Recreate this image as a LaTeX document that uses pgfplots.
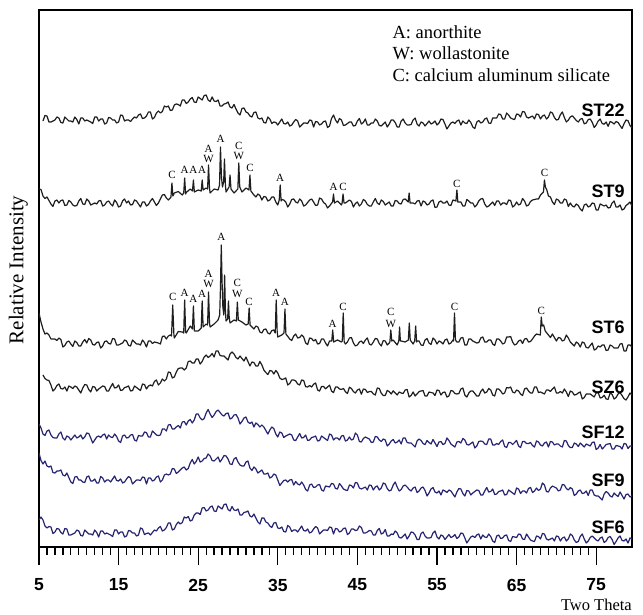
\documentclass[border=0pt]{standalone}
\usepackage{fontspec}
\setmainfont{Liberation Serif}
\newfontfamily\arial{Liberation Sans}
\usepackage{pgfplots}
\pgfplotsset{compat=1.18}
\definecolor{navy}{RGB}{38,36,112}
\definecolor{ink}{RGB}{30,30,30}
\begin{document}
\begin{tikzpicture}
\path[use as bounding box] (-39pt,-67pt) rectangle (604pt,547pt);
\begin{axis}[
 at={(0pt,0pt)}, anchor=south west,
 width=593pt, height=537pt, scale only axis,
 xmin=5, xmax=79.5, ymin=0, ymax=537,
 axis line style={line width=1.3pt},
 xtick={5,15,...,75}, minor x tick num=9,
 xtick pos=left, tick align=outside,
 major tick length=18pt, minor tick length=8pt,
 tick style={line width=1.3pt, black},
 ytick=\empty,
 xticklabel style={font=\arial\bfseries\fontsize{17.5}{18}\selectfont, anchor=center, yshift=-20pt},
 /pgf/number format/assume math mode=true,
 ylabel={Relative Intensity},
 ylabel style={font=\fontsize{21}{21}\selectfont, at={(axis description cs:-0.035,0.516)}, anchor=center},
 xlabel={Two Theta},
 xlabel style={at={(axis description cs:1.0,-0.119)}, anchor=base east, inner sep=0pt, font=\fontsize{16.5}{17}\selectfont},
 every axis plot/.append style={no marks, line width=1.2pt, line join=round},
]
% SF6
\addplot[navy] coordinates {(5,27)(5.25,30)(5.5,27)(5.75,21)(6,19)(6.25,20.5)(6.5,20)(6.75,13.5)(7,15)(7.25,18.5)(7.5,18)(7.75,14.5)(8,13)(8.25,18.5)(8.5,18)(8.75,12)(9,12)(9.25,13)(9.5,14)(9.75,17)(10,16)(10.25,11.5)(10.5,11)(10.75,17)(11,15)(11.25,13)(11.5,13)(11.75,12)(12,17)(12.25,14.5)(12.5,10)(12.75,16)(13,16)(13.25,13)(13.5,14)(13.75,13)(14,12)(14.25,10.5)(14.5,17)(14.75,17)(15,13)(15.25,15)(15.5,15)(15.75,10)(16,11)(16.25,16.5)(16.5,16)(16.75,14)(17,14)(17.25,11)(17.5,12)(17.75,19)(18,18)(18.25,12.5)(18.5,13.5)(18.75,14)(19,12)(19.25,14.5)(19.5,17)(19.75,16)(20,19)(20.25,20.5)(20.5,16)(20.75,17)(21,19.5)(21.25,24)(21.5,24)(21.75,17)(22,18)(22.25,22.5)(22.5,25)(22.75,23)(23,24.5)(23.25,30)(23.5,29)(23.75,30.5)(24,26)(24.25,27)(24.5,32)(24.75,34)(25,34)(25.25,32.5)(25.5,39)(25.75,39.5)(26,36)(26.25,37)(26.5,40)(26.75,41)(27,36)(27.25,35.5)(27.5,41)(27.75,39.5)(28,38)(28.25,42.5)(28.5,43)(28.75,37.5)(29,36)(29.25,40.5)(29.5,37)(29.75,36.5)(30,38)(30.25,32)(30.5,32)(30.75,34.5)(31,35)(31.25,36)(31.5,31)(31.75,30)(32,33)(32.25,29)(32.5,25)(32.75,23)(33,29)(33.25,29)(33.5,25)(33.75,24)(34,21)(34.25,19.5)(34.5,24)(34.75,24.5)(35,19)(35.25,18.5)(35.5,20)(35.75,15.5)(36,15)(36.25,21.5)(36.5,20)(36.75,15.5)(37,17)(37.25,17)(37.5,15)(37.75,18)(38,21)(38.25,16.5)(38.5,16)(38.75,18)(39,14)(39.25,15)(39.5,18)(39.75,20.5)(40,19)(40.25,13)(40.5,15)(40.75,17)(41,17)(41.25,16.5)(41.5,20)(41.75,19.5)(42,13)(42.25,18.5)(42.5,18)(42.75,15)(43,16)(43.25,18.5)(43.5,19)(43.75,12.5)(44,14)(44.25,18)(44.5,18)(44.75,16.5)(45,17)(45.25,21)(45.5,19.5)(45.75,14)(46,14)(46.25,15)(46.5,16.5)(46.75,16)(47,12)(47.25,12)(47.5,16.5)(47.75,18.5)(48,13)(48.25,14)(48.5,17.5)(48.75,11)(49,11)(49.25,13)(49.5,12.5)(49.75,16)(50,14)(50.25,9.5)(50.5,9)(50.75,11)(51,13)(51.25,8)(51.5,11)(51.75,15)(52,14.5)(52.25,12)(52.5,7.5)(52.75,7.5)(53,13.5)(53.25,15)(53.5,11)(53.75,9)(54,9)(54.25,9.5)(54.5,14)(54.75,16)(55,10)(55.25,8)(55.5,12)(55.75,11)(56,7.5)(56.25,10)(56.5,12.5)(56.75,9.5)(57,10.5)(57.25,12.5)(57.5,8.5)(57.75,10)(58,14)(58.25,13.5)(58.5,9)(58.75,4)(59,7)(59.25,10)(59.5,11)(59.75,9.5)(60,12)(60.25,13)(60.5,8)(60.75,12)(61,10)(61.25,9.5)(61.5,13)(61.75,10.5)(62,6)(62.25,4.5)(62.5,11)(62.75,12)(63,8.5)(63.25,9)(63.5,11.5)(63.75,12)(64,6.5)(64.25,5.5)(64.5,10.5)(64.75,10)(65,9.5)(65.25,13)(65.5,12.5)(65.75,8)(66,7.5)(66.25,13)(66.5,10)(66.75,7)(67,6)(67.25,5.5)(67.5,11)(67.75,10.5)(68,8)(68.25,13.5)(68.5,13)(68.75,8)(69,7)(69.25,8)(69.5,9)(69.75,6)(70,11)(70.25,10.5)(70.5,6)(70.75,9)(71,10)(71.25,6)(71.5,8)(71.75,13)(72,11.5)(72.25,7)(72.5,4.5)(72.75,5.5)(73,10.5)(73.25,13)(73.5,8)(73.75,4)(74,6)(74.25,9.5)(74.5,11)(74.75,9)(75,7)(75.25,6)(75.5,9)(75.75,10)(76,4.5)(76.25,6)(76.5,9.5)(76.75,10.5)(77,7.5)(77.25,2.5)(77.5,5.5)(77.75,9)(78,11)(78.25,6.5)(78.5,6)(78.75,8)(79,4)(79.25,9)(79.5,8)(79.75,6.5)(80,9)};
% SF9
\addplot[navy] coordinates {(5,94)(5.25,86.5)(5.5,83)(5.75,86)(6,81)(6.25,80)(6.5,81)(6.75,74.5)(7,74)(7.25,76)(7.5,76)(7.75,77)(8,72)(8.25,71)(8.5,74)(8.75,69.5)(9,65)(9.25,63.5)(9.5,70)(9.75,70.5)(10,67)(10.25,67)(10.5,65)(10.75,64.5)(11,70)(11.25,71)(11.5,66)(11.75,66)(12,68)(12.25,64)(12.5,64)(12.75,70.5)(13,69)(13.25,65)(13.5,67)(13.75,67)(14,65)(14.25,68)(14.5,71)(14.75,66.5)(15,66)(15.25,68)(15.5,64)(15.75,65)(16,68)(16.25,70.5)(16.5,69)(16.75,63)(17,65)(17.25,67)(17.5,67)(17.75,66.5)(18,70)(18.25,69.5)(18.5,63)(18.75,69)(19,69)(19.25,66)(19.5,67)(19.75,70)(20,71)(20.25,65)(20.5,67)(20.75,72)(21,73)(21.25,72)(21.5,73)(21.75,78.5)(22,78)(22.25,73.5)(22.5,75)(22.75,77)(23,79)(23.25,80)(23.5,77)(23.75,78.5)(24,84)(24.25,87.5)(24.5,83)(24.75,85.5)(25,90)(25.25,85)(25.5,86)(25.75,88.5)(26,89)(26.25,93)(26.5,91)(26.75,86.5)(27,86)(27.25,88)(27.5,90)(27.75,85)(28,88)(28.25,91.5)(28.5,91)(28.75,88)(29,83)(29.25,82.5)(29.5,88)(29.75,89.5)(30,85)(30.25,82)(30.5,81)(30.75,81)(31,85)(31.25,86)(31.5,79)(31.75,76.5)(32,80)(32.25,78)(32.5,74)(32.75,75.5)(33,77)(33.25,73)(33.5,73)(33.75,74)(34,69)(34.25,70)(34.5,73)(34.75,72)(35,67)(35.25,61.5)(35.5,64)(35.75,66.5)(36,67)(36.25,65)(36.5,67)(36.75,67.5)(37,62)(37.25,65.5)(37.5,63)(37.75,62)(38,65)(38.25,62)(38.5,57.5)(38.75,56)(39,62)(39.25,63)(39.5,59.5)(39.75,60)(40,62)(40.25,62.5)(40.5,57)(40.75,56)(41,61)(41.25,60.5)(41.5,60)(41.75,63.5)(42,63)(42.25,58.5)(42.5,58)(42.75,63.5)(43,61)(43.25,58)(43.5,57)(43.75,56.5)(44,62)(44.25,61.5)(44.5,59)(44.75,64.5)(45,64)(45.25,59)(45.5,58)(45.75,59)(46,60)(46.25,57)(46.5,62)(46.75,61.5)(47,57)(47.25,60)(47.5,61)(47.75,57)(48,59)(48.25,64)(48.5,63)(48.75,58.5)(49,56)(49.25,57)(49.5,62)(49.75,65)(50,60)(50.25,56)(50.5,57.5)(50.75,61)(51,62)(51.25,60)(51.5,57.5)(51.75,56)(52,59)(52.25,60)(52.5,54.5)(52.75,56)(53,59)(53.25,60)(53.5,56.5)(53.75,51)(54,54)(54.25,58)(54.5,59.5)(54.75,55)(55,54)(55.25,56)(55.5,52)(55.75,57)(56,56)(56.25,54.5)(56.5,57)(56.75,56)(57,53)(57.25,50)(57.5,55)(57.75,58.5)(58,58)(58.25,53.5)(58.5,51)(58.75,56.5)(59,56)(59.25,52)(59.5,54)(59.75,55.5)(60,57)(60.25,56.5)(60.5,52)(60.75,52)(61,56)(61.25,59.5)(61.5,55)(61.75,55.5)(62,58)(62.25,52.5)(62.5,53)(62.75,55.5)(63,56)(63.25,57)(63.5,52)(63.75,52.5)(64,57)(64.25,55.5)(64.5,54)(64.75,52.5)(65,59)(65.25,58)(65.5,53.5)(65.75,56)(66,56)(66.25,54)(66.5,58.5)(66.75,59.5)(67,54.5)(67.25,56)(67.5,59)(67.75,56.5)(68,58)(68.25,64)(68.5,62)(68.75,55.5)(69,55)(69.25,59)(69.5,61)(69.75,60)(70,59)(70.25,56)(70.5,57)(70.75,62.5)(71,62)(71.25,58.5)(71.5,57)(71.75,59.5)(72,58)(72.25,51.5)(72.5,53)(72.75,56)(73,57)(73.25,53.5)(73.5,54)(73.75,56)(74,51.5)(74.25,57)(74.5,57)(74.75,52)(75,51)(75.25,51)(75.5,49)(75.75,47)(76,53)(76.25,55.5)(76.5,54)(76.75,51)(77,50)(77.25,54)(77.5,52)(77.75,50.5)(78,55)(78.25,51.5)(78.5,48)(78.75,52.5)(79,53)(79.25,50)(79.5,51)(79.75,56.5)(80,54)};
% SF12
\addplot[navy] coordinates {(5,123)(5.25,119)(5.5,113)(5.75,111.5)(6,116)(6.25,117)(6.5,112)(6.75,109.5)(7,109)(7.25,109)(7.5,113)(7.75,115)(8,109)(8.25,107)(8.5,111)(8.75,110)(9,107)(9.25,109.5)(9.5,112)(9.75,109)(10,110)(10.25,112)(10.5,108)(10.75,110)(11,114)(11.25,113.5)(11.5,109)(11.75,104)(12,107)(12.25,110)(12.5,111)(12.75,109.5)(13,112)(13.25,113)(13.5,108)(13.75,112)(14,110)(14.25,109.5)(14.5,113)(14.75,110.5)(15,106)(15.25,104.5)(15.5,111)(15.75,112)(16,109)(16.25,109.5)(16.5,112)(16.75,112.5)(17,107)(17.25,106)(17.5,111.5)(17.75,111)(18,111)(18.25,115)(18.5,114.5)(18.75,110)(19,110)(19.25,116)(19.5,114)(19.75,112)(20,111.5)(20.25,112)(20.5,118)(20.75,118)(21,116)(21.25,122)(21.5,122.5)(21.75,118)(22,118)(22.25,120)(22.5,121.5)(22.75,119)(23,125)(23.25,125.5)(23.5,122)(23.75,126)(24,127.5)(24.25,124)(24.5,127)(24.75,133)(25,133)(25.25,129)(25.5,127)(25.75,128.5)(26,134)(26.25,137.5)(26.5,133)(26.75,129.5)(27,132)(27.25,135.5)(27.5,137)(27.75,134.5)(28,132)(28.25,131)(28.5,133.5)(28.75,134)(29,128)(29.25,129)(29.5,132)(29.75,132.5)(30,129)(30.25,123)(30.5,125.5)(30.75,129)(31,130)(31.25,125)(31.5,123.5)(31.75,125)(32,120)(32.25,124)(32.5,122.5)(32.75,120)(33,122)(33.25,120)(33.5,116.5)(33.75,113)(34,117)(34.25,120)(34.5,118.5)(34.75,113)(35,110)(35.25,115)(35.5,114)(35.75,109.5)(36,111)(36.25,112)(36.5,113)(36.75,112)(37,107)(37.25,106.5)(37.5,110)(37.75,113.5)(38,109)(38.25,109.5)(38.5,112)(38.75,106.5)(39,107)(39.25,109.5)(39.5,110)(39.75,111)(40,106)(40.25,106.5)(40.5,111)(40.75,109.5)(41,108)(41.25,106.5)(41.5,113)(41.75,112)(42,107)(42.25,109)(42.5,109)(42.75,107)(43,111)(43.25,111.5)(43.5,106)(43.75,107)(44,110)(44.25,107)(44.5,108)(44.75,114)(45,112)(45.25,105.5)(45.5,105)(45.75,108.5)(46,110)(46.25,109)(46.5,108)(46.75,104.5)(47,105)(47.25,110.5)(47.5,110)(47.75,107)(48,105.5)(48.25,108)(48.5,107)(48.75,101)(49,103)(49.25,106)(49.5,107.5)(49.75,104)(50,105)(50.25,107)(50.5,103)(50.75,109)(51,109)(51.25,104.5)(51.5,104)(51.75,104)(52,102)(52.25,100)(52.5,106)(52.75,108)(53,106.5)(53.25,103.5)(53.5,102.5)(53.75,106.5)(54,104.5)(54.25,103)(54.5,107.5)(54.75,104)(55,100.5)(55.25,105)(55.5,105.5)(55.75,102.5)(56,103.5)(56.25,109)(56.5,106.5)(56.75,103)(57,101.5)(57.25,100)(57.5,105)(57.75,105.5)(58,104)(58.25,108.5)(58.5,107)(58.75,102.5)(59,102)(59.25,103.5)(59.5,105)(59.75,99)(60,101)(60.25,105.5)(60.5,106)(60.75,105.5)(61,103)(61.25,102.5)(61.5,108)(61.75,108)(62,102)(62.25,102)(62.5,103.5)(62.75,102.5)(63,105.5)(63.25,107)(63.5,100.5)(63.75,99.5)(64,104.5)(64.25,104.5)(64.5,102.5)(64.75,104.5)(65,106.5)(65.25,101)(65.5,99.5)(65.75,105.5)(66,105.5)(66.25,103.5)(66.5,103.5)(66.75,104.5)(67,101.5)(67.25,100)(67.5,106)(67.75,105)(68,102)(68.25,101)(68.5,104)(68.75,105)(69,100)(69.25,105.5)(69.5,105)(69.75,102)(70,103)(70.25,103)(70.5,101)(70.75,100)(71,106.5)(71.25,106)(71.5,101.5)(71.75,99.5)(72,99.5)(72.25,104)(72.5,103)(72.75,100.5)(73,104)(73.25,102)(73.5,100)(73.75,103)(74,102)(74.25,101)(74.5,104.5)(74.75,105)(75,97.5)(75.25,99)(75.5,102.5)(75.75,98)(76,100)(76.25,102.5)(76.5,103)(76.75,103.5)(77,98)(77.25,98)(77.5,101.5)(77.75,101)(78,100.5)(78.25,98)(78.5,103.5)(78.75,103)(79,98.5)(79.25,101)(79.5,101)(79.75,96)(80,97)};
% SZ6
\addplot[ink] coordinates {(5.5,172)(5.75,168.5)(6,167)(6.25,166.5)(6.5,162)(6.75,156)(7,158)(7.25,161.5)(7.5,163)(7.75,158.5)(8,158)(8.25,160)(8.5,156)(8.75,161)(9,160)(9.25,158.5)(9.5,161)(9.75,160)(10,157)(10.25,154)(10.5,159)(10.75,162.5)(11,162)(11.25,157.5)(11.5,155)(11.75,160.5)(12,160)(12.25,156)(12.5,158)(12.75,159.5)(13,161)(13.25,160.5)(13.5,156)(13.75,156)(14,160)(14.25,163.5)(14.5,159)(14.75,159.5)(15,162)(15.25,156.5)(15.5,157)(15.75,159.5)(16,160)(16.25,161)(16.5,156)(16.75,156.5)(17,161)(17.25,159.5)(17.5,158)(17.75,156.5)(18,163)(18.25,162.5)(18.5,158)(18.75,161)(19,162)(19.25,161)(19.5,165.5)(19.75,167)(20,162)(20.25,164)(20.5,168)(20.75,166)(21,168)(21.25,175)(21.5,174.5)(21.75,169)(22,170)(22.25,175)(22.5,178.5)(22.75,179)(23,179)(23.25,177)(23.5,179)(23.75,185.5)(24,186)(24.25,184)(24.5,184)(24.75,188)(25,188)(25.25,183)(25.5,185.5)(25.75,190)(26,192)(26.25,189.5)(26.5,191)(26.75,193.5)(27,190)(27.25,196)(27.5,196)(27.75,191.5)(28,191)(28.25,191)(28.5,189)(28.75,187)(29,193)(29.25,195)(29.5,193)(29.75,189.5)(30,188)(30.25,191)(30.5,188.5)(30.75,186)(31,190)(31.25,185.5)(31.5,181)(31.75,185)(32,184.5)(32.25,181)(32.5,181)(32.75,185.5)(33,182)(33.25,177)(33.5,174.5)(33.75,172.5)(34,176.5)(34.25,176)(34.5,173)(34.75,176.5)(35,174)(35.25,169)(35.5,167.5)(35.75,168)(36,169)(36.25,162)(36.5,163.5)(36.75,167)(37,167)(37.25,166)(37.5,163)(37.75,162)(38,167)(38.25,166.5)(38.5,160.3)(38.75,160)(39,161.5)(39.25,160)(39.5,162.8)(39.75,164)(40,157)(40.25,156)(40.5,160.6)(40.75,160.5)(41,158.2)(41.25,160)(41.5,161.8)(41.75,156)(42,154.4)(42.25,160)(42.5,160)(42.75,158)(43,157.6)(43.25,158.5)(43.5,155.2)(43.75,153.5)(44,159.8)(44.25,158.5)(44.5,155.4)(44.75,154)(45,157)(45.25,158)(45.5,152.8)(45.75,158)(46,157.6)(46.25,154.5)(46.5,155.4)(46.75,155.5)(47,153.2)(47.25,152)(47.5,159)(47.75,158.5)(48,153.8)(48.25,151.5)(48.5,151.6)(48.75,156.5)(49,155.4)(49.25,153)(49.5,156.2)(49.75,154)(50,152)(50.25,155)(50.5,154)(50.75,153.5)(51,157)(51.25,157.5)(51.5,150)(51.75,151.5)(52,155)(52.25,151)(52.5,153)(52.75,155.5)(53,156)(53.25,156.5)(53.5,151)(53.75,151)(54,155)(54.25,154.5)(54.5,154)(54.75,151.5)(55,157)(55.25,156.5)(55.5,152)(55.75,154.5)(56,155)(56.25,150)(56.5,151)(56.75,156.5)(57,156)(57.25,153.5)(57.5,153)(57.75,153.5)(58,158)(58.25,159)(58.5,152)(58.75,150)(59,154)(59.25,156)(59.5,156)(59.75,153.5)(60,151)(60.25,151)(60.5,155.5)(60.75,158)(61,154)(61.25,155)(61.5,158.5)(61.75,157)(62,152)(62.25,151)(62.5,158)(62.75,158)(63,156)(63.25,153)(63.5,154)(63.75,159.5)(64,159)(64.25,160)(64.5,155)(64.75,154)(65,157)(65.25,156)(65.5,153)(65.75,151.5)(66,158)(66.25,159)(66.5,156)(66.75,154)(67,154)(67.25,160)(67.5,160)(67.75,154.5)(68,155)(68.25,154)(68.5,153)(68.75,157)(69,157)(69.25,155.5)(69.5,158)(69.75,160)(70,154)(70.25,154)(70.5,155.5)(70.75,154)(71,158)(71.25,155)(71.5,150.5)(71.75,156)(72,155)(72.25,152)(72.5,152.5)(72.75,154)(73,155)(73.25,148)(73.5,149.5)(73.75,153)(74,153)(74.25,153)(74.5,151.5)(74.75,150)(75,154)(75.25,154.5)(75.5,149)(75.75,149.5)(76,151.8)(76.25,148)(76.5,147.7)(76.75,154)(77,152.6)(77.25,148)(77.5,149.5)(77.75,153)(78,154.4)(78.25,151.5)(78.5,148.3)(78.75,147)(79,150.2)(79.25,154)(79.5,152.1)(79.75,148.5)(80,147)};
% ST6
\addplot[ink] coordinates {(5,234)(5.25,225)(5.5,218)(5.75,213)(6,214)(6.25,212)(6.5,208)(6.75,208)(7,208)(7.25,206.5)(7.5,209)(7.75,207.5)(8,200)(8.25,201.5)(8.5,205)(8.75,206)(9,203)(9.25,200.5)(9.5,206)(9.75,204.5)(10,201)(10.25,201)(10.5,205)(10.75,207.5)(11,204)(11.25,208.5)(11.5,207)(11.75,202.5)(12,202)(12.25,204.5)(12.5,205)(12.75,199)(13,201)(13.25,205.5)(13.5,206)(13.75,203.5)(14,203)(14.25,208.5)(14.5,208)(14.75,202)(15,202)(15.25,203)(15.5,204)(15.75,207)(16,206)(16.25,201.5)(16.5,201)(16.75,207)(17,205)(17.25,203)(17.5,203)(17.75,202)(18,207)(18.25,204.5)(18.5,200)(18.75,206)(19,206)(19.25,203.5)(19.5,205)(19.75,204.5)(20,204)(20.25,203)(20.5,210.5)(20.75,211)(21,208)(21.25,211)(21.5,212)(21.65,211)(21.8,242)(21.95,212)(22,209)(22.5,215.5)(23,215)(23.18,214)(23.3,247)(23.42,215)(23.5,214)(24,221)(24.28,218)(24.4,241)(24.52,216)(25,216)(25.38,219)(25.5,246)(25.62,220)(26,223)(26.18,222)(26.3,255)(26.42,224)(26.5,220)(27,223)(27.5,227)(27.7,232)(27.8,260)(27.9,302)(28.0,265)(28.1,240)(28.22,232)(28.32,272)(28.42,236)(28.5,226)(28.7,228)(28.8,246)(28.9,229)(29,224)(29.5,227)(29.8,226)(29.92,245)(30.04,227)(30.5,225)(31,222)(31.28,223)(31.4,239)(31.52,222)(32,218)(32.25,221)(32.5,220)(32.75,215)(33,214)(33.25,217.5)(33.5,218)(33.75,214)(34,213)(34.25,216.5)(34.5,217)(34.68,214)(34.8,247)(34.92,216)(35,210)(35.5,212)(35.78,214)(35.9,238)(36.02,213)(36.5,208)(36.75,206.5)(37,211)(37.25,213)(37.5,209)(37.75,209.5)(38,212)(38.25,210)(38.5,204)(38.75,202.5)(39,209)(39.25,208.5)(39.5,206)(39.75,207.5)(40,203)(40.25,203.5)(40.5,208)(40.75,208)(41,204)(41.25,201)(41.5,206)(41.78,206)(41.9,217)(42.02,205)(42.5,207)(43,205)(43.1,206)(43.22,234)(43.34,205)(43.5,203)(43.75,205)(44,209)(44.25,209.5)(44.5,204)(44.75,201)(45,202)(45.25,205)(45.5,206)(45.75,203.5)(46,207)(46.25,209)(46.5,203)(46.75,202)(47,205)(47.25,208.5)(47.5,208)(47.75,203.5)(48,201)(48.25,206.5)(48.5,206)(48.75,202)(49,204)(49.08,205)(49.2,217)(49.32,206)(49.5,207)(50,202)(50.2,206)(50.3,220)(50.4,206)(50.5,206)(51,205)(51.4,207)(51.52,224)(51.64,207)(52,203)(52.2,206)(52.32,221)(52.44,205)(52.5,206)(52.75,206)(53,202)(53.25,201.5)(53.5,207)(53.75,208.5)(54,204)(54.25,202.5)(54.5,209)(54.75,207)(55,203)(55.25,206)(55.5,205)(55.75,203)(56,207)(56.25,208)(56.5,203)(56.75,204)(57,207)(57.08,206)(57.2,234)(57.32,207)(57.5,205)(57.75,205)(58,209)(58.25,209.5)(58.5,202)(58.75,202)(59,208)(59.25,208)(59.5,206)(59.75,205)(60,204)(60.25,204.5)(60.5,209)(60.75,210)(61,205)(61.25,205)(61.5,207)(61.75,207)(62,203)(62.25,201.5)(62.5,208)(62.75,208)(63,206)(63.25,203)(63.5,204)(63.75,210)(64,210)(64.25,210.5)(64.5,205)(64.75,202)(65,203)(65.25,206)(65.5,207)(65.75,203.5)(66,208)(66.25,208.5)(66.5,205)(66.75,205.5)(67,208)(67.25,211)(67.5,213)(67.98,212)(68.1,230)(68.22,221)(68.4,222)(68.6,216)(69,212)(69.25,209.5)(69.5,213)(69.75,209.5)(70,206)(70.25,209.5)(70.5,209)(70.75,206)(71,207)(71.25,212)(71.5,209)(71.75,205)(72,203)(72.25,201)(72.5,205)(72.75,203.5)(73,200)(73.25,205)(73.5,204)(73.75,199.5)(74,199)(74.25,201.5)(74.5,204)(74.75,197)(75,198)(75.25,201)(75.5,200)(75.75,202)(76,202)(76.25,196.5)(76.5,197)(76.75,202)(77,201)(77.25,199)(77.5,199)(77.75,199)(78,203)(78.25,203.5)(78.5,196)(78.75,196)(79,202)(79.25,202)(79.5,200)(79.75,199)(80,198)};
% ST9
\addplot[ink] coordinates {(5,358)(5.25,357.5)(5.5,351)(5.75,348.5)(6,350)(6.25,346.5)(6.5,343)(6.75,340.5)(7,346)(7.25,347)(7.5,344)(7.75,346.5)(8,347)(8.25,341.5)(8.5,342)(8.75,346.5)(9,345)(9.25,342)(9.5,341)(9.75,341.5)(10,346)(10.25,348.5)(10.5,343)(10.75,342.5)(11,348)(11.25,346)(11.5,342)(11.75,343)(12,344)(12.25,343)(12.5,346)(12.75,346.5)(13,341)(13.25,342)(13.5,345)(13.75,346)(14,343)(14.25,341)(14.5,347)(14.75,344.5)(15,340)(15.25,341)(15.5,346)(15.75,348)(16,344)(16.25,346)(16.5,342)(16.75,342.5)(17,347)(17.25,346)(17.5,343)(17.75,340)(18,345)(18.25,345)(18.5,341)(18.75,342.5)(19,346)(19.25,348.5)(19.5,345)(19.75,341.5)(20,344)(20.25,348)(20.5,352)(20.75,352.5)(21,349)(21.25,347)(21.5,349)(21.58,350)(21.7,364)(21.82,351)(22,354)(22.5,355.5)(23,352)(23.18,354)(23.3,369)(23.42,353)(23.5,354.5)(24,358)(24.28,356)(24.4,367)(24.52,355)(25,357)(25.38,356)(25.5,367)(25.62,357)(26,359)(26.18,358)(26.3,382)(26.42,359)(26.5,354)(27,358)(27.5,357)(27.68,362)(27.8,400)(27.92,370)(28.05,360)(28.2,365)(28.3,388)(28.42,362)(28.5,355)(28.88,360)(29.0,372)(29.12,358)(29.5,354)(29.98,358)(30.1,384)(30.22,360)(30.5,355)(31,359)(31.38,357)(31.5,372)(31.62,356)(32,352)(32.25,350)(32.5,353)(32.75,351.5)(33,347)(33.25,350.5)(33.5,350)(33.75,346)(34,347)(34.25,350)(34.5,350)(34.75,345)(35,342)(35.18,347)(35.3,362)(35.42,346)(35.5,347.5)(35.75,347)(36,345)(36.25,340)(36.5,343)(36.75,347.5)(37,348)(37.25,345)(37.5,344)(37.75,348)(38,346)(38.25,341)(38.5,342)(38.75,344.5)(39,347)(39.25,348)(39.5,345)(39.75,341.5)(40,342)(40.25,349)(40.5,348)(40.75,344.5)(41,343)(41.25,339)(41.5,341)(41.88,345)(42.0,353)(42.12,344)(42.5,346)(43,342)(43.08,344)(43.2,353)(43.32,344)(43.5,344)(43.75,345.5)(44,347)(44.25,345.5)(44.5,340)(44.75,343.5)(45,345)(45.25,341)(45.5,343)(45.75,347.5)(46,346)(46.25,342.5)(46.5,341)(46.75,341)(47,345)(47.25,348.5)(47.5,344)(47.75,342.5)(48,347)(48.25,345.5)(48.5,342)(48.75,343.5)(49,345)(49.25,341)(49.5,341)(49.75,346.5)(50,346)(50.25,343.5)(50.5,343)(50.75,347.5)(51,348)(51.38,345)(51.5,354)(51.62,344)(52,344)(52.25,343)(52.5,346)(52.75,346.5)(53,341)(53.25,346)(53.5,345)(53.75,342)(54,343)(54.25,346)(54.5,347)(54.75,339.5)(55,340)(55.25,345)(55.5,346)(55.75,344)(56,344)(56.25,346)(56.5,342)(56.75,341.5)(57,347)(57.38,346)(57.5,357)(57.62,345)(58,345)(58.25,341)(58.5,341)(58.75,347.5)(59,346)(59.25,344)(59.5,344)(59.75,340)(60,342)(60.25,346)(60.5,348)(60.75,348.5)(61,343)(61.25,340)(61.5,341)(61.75,343)(62,345)(62.25,341.5)(62.5,346)(62.75,346)(63,342)(63.25,344)(63.5,344)(63.75,342.5)(64,347)(64.25,346.5)(64.5,340)(64.75,341.5)(65,345)(65.25,342)(65.5,343)(65.75,348.5)(66,346)(66.25,341)(66.5,342)(66.75,345.5)(67,347)(67.25,347.5)(67.5,348)(67.75,348)(68,352)(68.38,355)(68.5,367)(68.62,360)(68.8,357)(69,351)(69.25,350)(69.5,345)(69.75,342.5)(70,348)(70.25,347)(70.5,344)(70.75,344)(71,348)(71.25,347)(71.5,340.5)(71.75,344)(72,341)(72.25,340)(72.5,343)(72.75,341.5)(73,338)(73.25,336)(73.5,342)(73.75,343)(74,340)(74.25,341)(74.5,344)(74.75,343.5)(75,337)(75.25,337)(75.5,343)(75.75,342)(76,341)(76.25,342)(76.5,339)(76.75,339.5)(77,344)(77.25,346)(77.5,340)(77.75,340)(78,342)(78.25,337)(78.5,338)(78.75,341.5)(79,343)(79.25,345)(79.5,341)(79.75,338)(80,339)};
% ST22
\addplot[ink] coordinates {(5.5,426)(5.75,431.5)(6,431)(6.25,425)(6.5,425)(6.75,426)(7,427)(7.25,430)(7.5,429)(7.75,424.5)(8,424)(8.25,430)(8.5,428)(8.75,426)(9,426)(9.25,425)(9.5,430)(9.75,427.5)(10,423)(10.25,429)(10.5,429)(10.75,426)(11,427)(11.25,426)(11.5,425)(11.75,423.5)(12,430)(12.25,430)(12.5,426)(12.75,428)(13,428)(13.25,423)(13.5,424)(13.75,429.5)(14,429)(14.25,427)(14.5,427)(14.75,424)(15,425)(15.25,432)(15.5,431.5)(15.75,426)(16,427)(16.25,427)(16.5,425.5)(16.75,428)(17,430)(17.25,429)(17.5,432)(17.75,433)(18,428.5)(18.25,429)(18.5,431)(18.75,435)(19,435)(19.25,428)(19.5,429.5)(19.75,434)(20,436)(20.25,434)(20.5,435.5)(20.75,441)(21,440)(21.25,441)(21.5,436.5)(21.75,437)(22,442)(22.25,443)(22.5,442.5)(22.75,441)(23,447)(23.25,447)(23.5,443.5)(23.75,445)(24,448)(24.25,449.5)(24.5,445)(24.75,444.5)(25,450)(25.25,448.5)(25.5,447)(25.75,451.5)(26,452)(26.25,447)(26.5,445.5)(26.75,450)(27,446)(27.25,445.5)(27.5,447)(27.75,441)(28,441)(28.25,443)(28.5,443.5)(28.75,445)(29,440)(29.25,439)(29.5,442.5)(29.75,438)(30,434)(30.25,432)(30.5,438.5)(30.75,439)(31,435)(31.25,434)(31.5,431)(31.75,430)(32,434.5)(32.25,435)(32.5,429)(32.75,428)(33,429)(33.25,424.5)(33.5,424)(33.75,430)(34,428)(34.25,423.5)(34.5,425)(34.75,424.5)(35,422)(35.25,425)(35.5,428)(35.75,423.5)(36,423)(36.25,425)(36.5,421)(36.75,422)(37,425)(37.25,427.5)(37.5,426)(37.75,420)(38,422)(38.25,424)(38.5,424)(38.75,423.5)(39,427)(39.25,426.5)(39.5,420)(39.75,425.5)(40,425)(40.25,422)(40.5,423)(40.75,425.5)(41,426)(41.25,419.5)(41.5,421)(41.75,428.5)(42,432)(42.25,427)(42.5,424)(42.75,428.5)(43,427)(43.25,421.5)(43.5,422)(43.75,423.5)(44,425)(44.25,425)(44.5,421)(44.75,421.5)(45,426)(45.25,428.5)(45.5,423)(45.75,424.5)(46,428)(46.25,422)(46.5,422)(46.75,424)(47,424)(47.25,428)(47.5,426)(47.75,421.5)(48,421)(48.25,423)(48.5,425)(48.75,420)(49,423)(49.25,427)(49.5,427)(49.75,424.5)(50,420)(50.25,420)(50.5,426)(50.75,428)(51,424)(51.25,422)(51.5,422)(51.75,422.5)(52,427)(52.25,429)(52.5,423)(52.75,421)(53,425)(53.25,424)(53.5,421)(53.75,423.5)(54,426)(54.25,423)(54.5,424)(54.75,426)(55,422)(55.25,424)(55.5,428)(55.75,427.5)(56,423)(56.25,418)(56.5,421)(56.75,424)(57,425)(57.25,423.5)(57.5,426)(57.75,427)(58,422)(58.25,426)(58.5,424)(58.75,423.5)(59,427)(59.25,424.5)(59.5,420)(59.75,418.5)(60,425)(60.25,426.5)(60.5,424)(60.75,425)(61,428)(61.25,429)(61.5,424)(61.75,423.5)(62,429)(62.25,429)(62.5,429)(62.75,433)(63,432.5)(63.25,428)(63.5,428)(63.75,434)(64,432)(64.25,429)(64.5,428)(64.75,427.5)(65,433)(65.25,432.5)(65.5,430)(65.75,435.5)(66,435)(66.25,430)(66.5,429)(66.75,430)(67,431)(67.25,428)(67.5,433)(67.75,432.5)(68,428)(68.25,431)(68.5,432)(68.75,428)(69,430)(69.25,435)(69.5,434)(69.75,429.5)(70,427)(70.25,427.5)(70.5,432.3)(70.75,435)(71,429.6)(71.25,425)(71.5,426.9)(71.75,430)(72,431.2)(72.25,429)(72.5,426.5)(72.75,425)(73,427.8)(73.25,428.5)(73.5,423.1)(73.75,424)(74,427.4)(74.25,428)(74.5,424.7)(74.75,419.5)(75,422)(75.25,426)(75.5,428)(75.75,423.5)(76,422.8)(76.25,425)(76.5,420.7)(76.75,425.5)(77,424.6)(77.25,423)(77.5,425.5)(77.75,424.5)(78,421.4)(78.25,418.5)(78.5,423.3)(78.75,427)(79,426.2)(79.25,421.5)(79.5,419.1)(79.75,424.5)(80,424)};
% legend text
\begin{scope}[every node/.style={anchor=west, inner sep=0pt, font=\fontsize{18.5}{18.5}\selectfont}]
\node at (axis cs:49.4,515) {A: anorthite};
\node at (axis cs:49.4,494) {W: wollastonite};
\node at (axis cs:49.4,472) {C: calcium aluminum silicate};
\end{scope}
% series names
\begin{scope}[every node/.style={anchor=east, inner sep=0pt, font=\arial\bfseries\fontsize{18}{18}\selectfont}]
\node at (axis cs:78.6,437) {ST22};
\node at (axis cs:78.6,356) {ST9};
\node at (axis cs:78.6,220) {ST6};
\node at (axis cs:78.6,160) {SZ6};
\node at (axis cs:78.6,115) {SF12};
\node at (axis cs:78.6,67) {SF9};
\node at (axis cs:78.6,20) {SF6};
\end{scope}
% peak labels
\begin{scope}[every node/.style={inner sep=0pt, font=\fontsize{11}{11}\selectfont}]
\node at (axis cs:21.7,372) {C};
\node at (axis cs:23.3,377) {A};
\node at (axis cs:24.4,377) {A};
\node at (axis cs:25.5,377) {A};
\node at (axis cs:26.3,398) {A};
\node at (axis cs:26.3,388) {W};
\node at (axis cs:27.8,408) {A};
\node at (axis cs:30.1,401) {C};
\node at (axis cs:30.1,391) {W};
\node at (axis cs:31.5,379) {C};
\node at (axis cs:35.3,369) {A};
\node at (axis cs:42.0,360) {A};
\node at (axis cs:43.2,360) {C};
\node at (axis cs:57.5,363) {C};
\node at (axis cs:68.5,374) {C};
\node at (axis cs:21.8,250) {C};
\node at (axis cs:23.3,254) {A};
\node at (axis cs:24.4,248) {A};
\node at (axis cs:25.5,253) {A};
\node at (axis cs:26.3,273) {A};
\node at (axis cs:26.3,263) {W};
\node at (axis cs:27.9,310) {A};
\node at (axis cs:29.9,264) {C};
\node at (axis cs:29.9,253) {W};
\node at (axis cs:31.4,245) {C};
\node at (axis cs:34.8,254) {A};
\node at (axis cs:35.9,245) {A};
\node at (axis cs:41.9,223) {A};
\node at (axis cs:43.2,240) {C};
\node at (axis cs:49.2,235) {C};
\node at (axis cs:49.2,223) {W};
\node at (axis cs:57.2,240) {C};
\node at (axis cs:68.1,236) {C};
\end{scope}
\end{axis}
\end{tikzpicture}
\end{document}
